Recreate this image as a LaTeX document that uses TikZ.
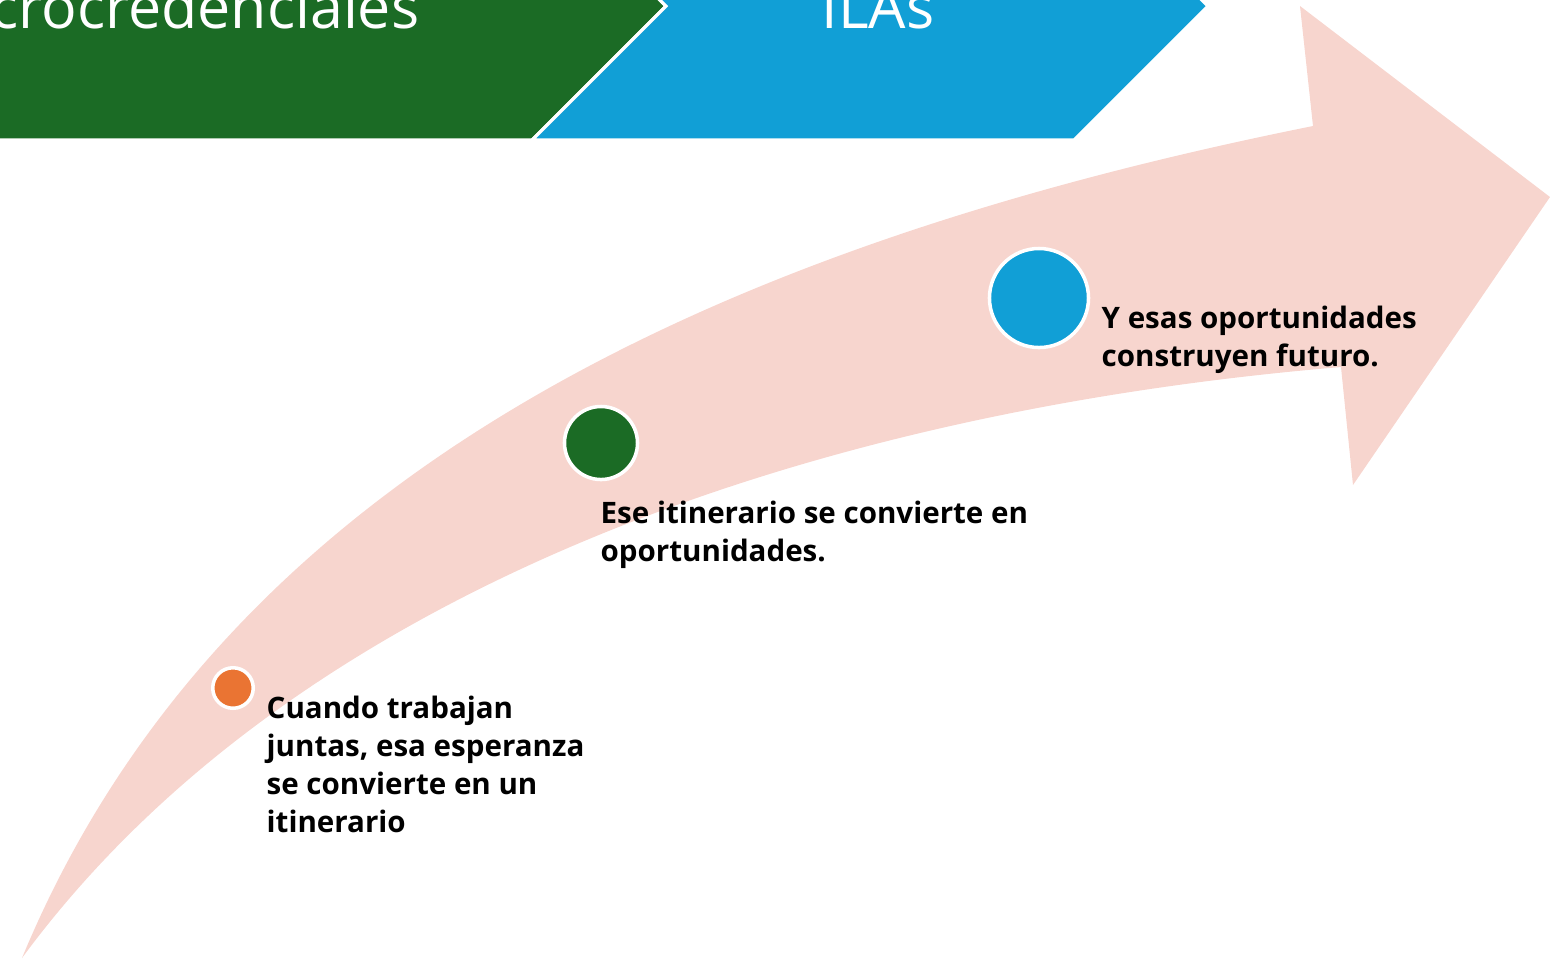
\documentclass[tikz,border=0pt]{standalone}
\usepackage{fontspec}
\setmainfont{Open Sans}
\usetikzlibrary{positioning}
\definecolor{arrowpink}{HTML}{F7D5CE}
\definecolor{itgreen}{HTML}{1B6B25}
\definecolor{itblue}{HTML}{119FD6}
\definecolor{itorange}{HTML}{EA7433}

\begin{document}
\begin{tikzpicture}[
  x=0.01cm, y=-0.01cm,
  banner/.style={draw=white, line width=0.9pt},
  bannertext/.style={text=white, inner sep=0, font=\fontsize{16.8}{20}\selectfont},
  dot/.style={circle, draw=white, line width=1pt, inner sep=0},
  steptext/.style={inner sep=0, align=left, anchor=north west,
    font=\fontsize{8.4}{10.8}\selectfont\bfseries}
]
  \useasboundingbox (0,0) rectangle (1550,959);
  \clip (0,0) rectangle (1550,959);
  % curved arrow
  \fill [arrowpink]
    (22,958)
    .. controls (220,480) and (705,248) .. (1313,126)
    -- (1300,6)
    -- (1550,197)
    -- (1353,485)
    -- (1341,367)
    .. controls (793,413) and (287,598) .. (22,958)
    -- cycle
  ;
  % banner
  \draw [banner,fill=itgreen]
    (-60,-128)
    -- (532,-128)
    -- (666,6)
    -- (532,140)
    -- (-60,140)
    -- cycle
  ;
  \draw [banner,fill=itblue]
    (532,-128)
    -- (1074,-128)
    -- (1208,6)
    -- (1074,140)
    -- (532,140)
    -- (666,6)
    -- cycle
  ;
  \node [bannertext,anchor=base east] (microcred) at (420,28) {Microcredenciales};
  \node [bannertext,anchor=base] (ilas) at (878,28) {ILAs};
  % steps
  \node [dot,fill=itorange,minimum size=0.405cm] (dot1) at (233,688) {};
  \node [dot,fill=itgreen,minimum size=0.73cm] (dot2) at (601,443) {};
  \node [dot,fill=itblue,minimum size=0.99cm] (dot3) at (1039,298) {};
  \node [steptext] (text1) at (266,695)
    {Cuando trabajan\\juntas, esa esperanza\\se convierte en un\\itinerario};
  \node [steptext] (text2) at (600,500)
    {Ese itinerario se convierte en\\oportunidades.};
  \node [steptext] (text3) at (1101,305)
    {Y esas oportunidades\\construyen futuro.};
\end{tikzpicture}
\end{document}
